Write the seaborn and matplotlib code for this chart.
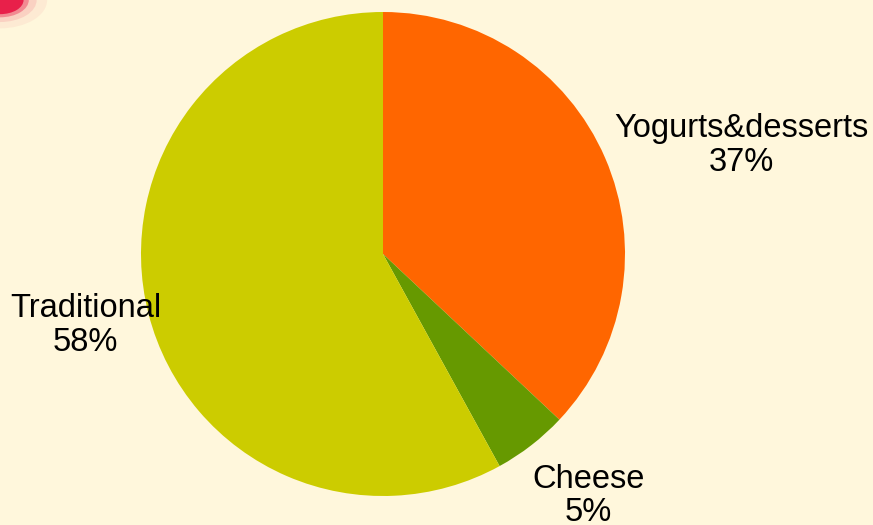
import matplotlib
matplotlib.use("Agg")
import matplotlib.pyplot as plt
import seaborn as sns
from matplotlib.patches import Circle

categories = ["Yogurts&desserts", "Cheese", "Traditional"]
shares = [37, 5, 58]
colors = ["#FF6600", "#669900", "#CCCC00"]
label_pos = [(1.481, 0.449), (0.848, -1.0), (-1.230, -0.296)]

sns.set_theme(style="white")
plt.rcParams["font.family"] = ["Liberation Sans", "DejaVu Sans"]

bg = "#FFF7DC"
fig = plt.figure(figsize=(8.73, 5.25), dpi=100, facecolor=bg)
ax = fig.add_axes([0, 0, 1, 1])
ax.set_facecolor(bg)

ax.pie(shares, colors=colors, startangle=90, counterclock=False,
       radius=1.0, wedgeprops=dict(linewidth=0))

for name, val, (x, y) in zip(categories, shares, label_pos):
    ax.text(x, y, f"{name}\n{val}%", ha="center", va="center",
            fontsize=23.5, color="black", linespacing=1.1)

ax.set_aspect("auto")
ax.set_xlim(-383 / 242, (873 - 383) / 242)
ax.set_ylim(-271 / 242, 254 / 242)
ax.axis("off")

# decorative red blob at top-left corner
for r, a in [(0.09, 0.06), (0.07, 0.12), (0.055, 0.4), (0.045, 1.0)]:
    fig.patches.append(Circle((0.0, 1.0), r * 0.6, transform=fig.transFigure,
                              facecolor="#E8204A", edgecolor="none", alpha=a))

fig.savefig("out.png", dpi=100, facecolor=bg)
